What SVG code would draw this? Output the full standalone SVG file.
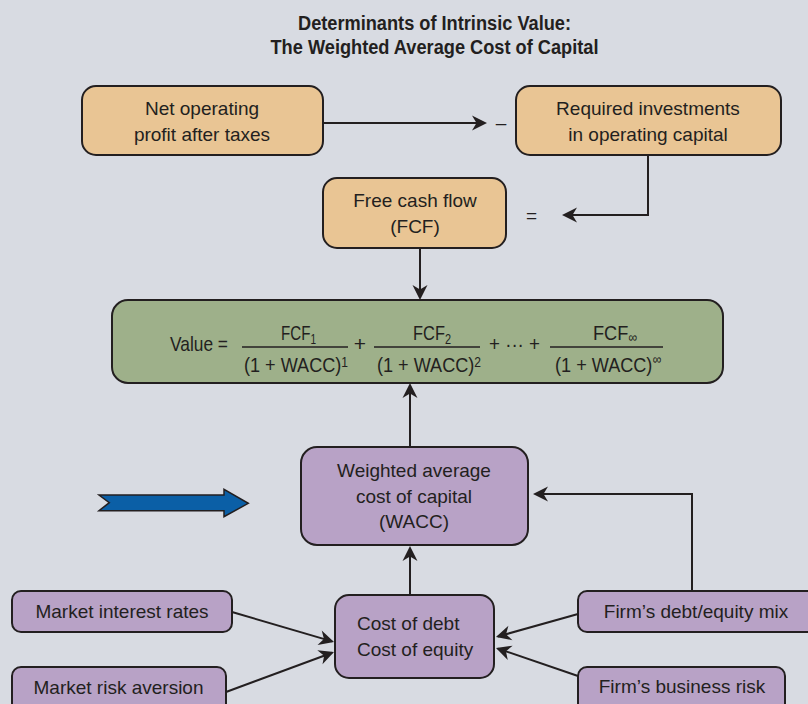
<svg xmlns="http://www.w3.org/2000/svg" width="808" height="704" viewBox="0 0 808 704">
  <defs>
    <marker id="arrowhead" viewBox="-16 -9 18 18" markerWidth="18" markerHeight="18" refX="-2" refY="0" orient="auto" markerUnits="userSpaceOnUse">
      <path d="M0,0 L-15,-7.5 L-10.5,0 L-15,7.5 Z" fill="#231f20"/>
    </marker>
    <style>
      .bg { fill: #d8dbe2; }
      .box { stroke: #231f20; stroke-width: 2; }
      .tan { fill: #e9c594; }
      .sage { fill: #9eb08a; }
      .lilac { fill: #b8a2c6; }
      .t { font-family: "Liberation Sans", Arial, sans-serif; font-size: 19px; fill: #231f20; }
      .c { text-anchor: middle; }
      .title { font-family: "Liberation Sans", Arial, sans-serif; font-size: 20px; font-weight: bold; fill: #231f20; text-anchor: middle; }
      .m { font-family: "Liberation Sans", Arial, sans-serif; font-size: 21px; fill: #231f20; }
      .sm { font-size: 14px; }
      .link { fill: none; stroke: #231f20; stroke-width: 2; marker-end: url(#arrowhead); }
      .bar { stroke: #231f20; stroke-width: 1.5; }
    </style>
  </defs>

  <rect class="bg" x="0" y="0" width="808" height="704"/>

  <!-- heading -->
  <g id="title">
    <text class="title" x="434.5" y="30" textLength="273" lengthAdjust="spacingAndGlyphs">Determinants of Intrinsic Value:</text>
    <text class="title" x="434.5" y="54" textLength="328" lengthAdjust="spacingAndGlyphs">The Weighted Average Cost of Capital</text>
  </g>

  <!-- connectors -->
  <g id="connectors">
    <line class="link" x1="323" y1="123" x2="485" y2="123"/>
    <path class="link" d="M648,155 V215 H564"/>
    <line class="link" x1="420" y1="248" x2="420" y2="298"/>
    <line class="link" x1="410" y1="447" x2="410" y2="385"/>
    <line class="link" x1="410" y1="595" x2="410" y2="548"/>
    <path class="link" d="M692,591 V494 H535"/>
    <line class="link" x1="232" y1="612" x2="332.1" y2="641.4"/>
    <line class="link" x1="226" y1="692" x2="332.1" y2="652.7"/>
    <line class="link" x1="578" y1="614" x2="497.9" y2="636.5"/>
    <line class="link" x1="578" y1="676" x2="497.9" y2="648.6"/>
  </g>

  <!-- operators between the top boxes -->
  <g id="operators">
    <text class="t c" x="501" y="129">–</text>
    <text class="t c" x="531.5" y="221.5">=</text>
  </g>

  <g id="nopat">
    <rect class="box tan" x="82" y="86" width="241" height="69" rx="14"/>
    <text class="t c" x="202" y="115">Net operating</text>
    <text class="t c" x="202" y="141">profit after taxes</text>
  </g>

  <g id="investments">
    <rect class="box tan" x="516" y="86" width="265" height="69" rx="14"/>
    <text class="t c" x="648" y="115">Required investments</text>
    <text class="t c" x="648" y="141">in operating capital</text>
  </g>

  <g id="fcf">
    <rect class="box tan" x="323" y="178" width="183" height="70" rx="14"/>
    <text class="t c" x="415" y="207">Free cash flow</text>
    <text class="t c" x="415" y="233">(FCF)</text>
  </g>

  <!-- valuation formula -->
  <g id="value">
    <rect class="box sage" x="112" y="300" width="611" height="83" rx="16"/>
    <text class="m" x="170" y="351" textLength="58" lengthAdjust="spacingAndGlyphs">Value =</text>

    <text class="m" x="281" y="340" textLength="35" lengthAdjust="spacingAndGlyphs">FCF<tspan class="sm" dy="4">1</tspan></text>
    <line class="bar" x1="242" y1="347" x2="348" y2="347"/>
    <text class="m" x="244" y="372" textLength="104" lengthAdjust="spacingAndGlyphs">(1 + WACC)<tspan class="sm" dy="-5">1</tspan></text>

    <text class="m c" x="360" y="351">+</text>

    <text class="m" x="413" y="340" textLength="38" lengthAdjust="spacingAndGlyphs">FCF<tspan class="sm" dy="4">2</tspan></text>
    <line class="bar" x1="374" y1="347" x2="480" y2="347"/>
    <text class="m" x="377" y="372" textLength="104" lengthAdjust="spacingAndGlyphs">(1 + WACC)<tspan class="sm" dy="-5">2</tspan></text>

    <text class="m" x="489" y="351" textLength="51" lengthAdjust="spacingAndGlyphs">+ ··· +</text>

    <text class="m" x="593" y="340" textLength="44" lengthAdjust="spacingAndGlyphs">FCF<tspan class="sm" dy="2">∞</tspan></text>
    <line class="bar" x1="550" y1="347" x2="663" y2="347"/>
    <text class="m" x="555" y="372" textLength="106" lengthAdjust="spacingAndGlyphs">(1 + WACC)<tspan class="sm" dy="-8">∞</tspan></text>
  </g>

  <g id="wacc">
    <rect class="box lilac" x="301" y="447" width="227" height="98" rx="16"/>
    <text class="t c" x="414" y="477">Weighted average</text>
    <text class="t c" x="414" y="502.5">cost of capital</text>
    <text class="t c" x="414" y="528">(WACC)</text>
  </g>

  <!-- block arrow pointing at the WACC box -->
  <g id="pointer">
    <path d="M99,495 H224 V489.3 L248.3,503.3 L224,516.7 V510.7 H99 L109.3,502.7 Z" fill="#0b5fa6" stroke="#231f20" stroke-width="1.5" stroke-linejoin="miter"/>
  </g>

  <g id="costs">
    <rect class="box lilac" x="335" y="595" width="159" height="83" rx="14"/>
    <text class="t" x="357" y="630">Cost of debt</text>
    <text class="t" x="357" y="656">Cost of equity</text>
  </g>

  <g id="market-rates">
    <rect class="box lilac" x="12" y="591" width="220" height="41" rx="9"/>
    <text class="t c" x="122" y="618">Market interest rates</text>
  </g>

  <g id="risk-aversion">
    <rect class="box lilac" x="12" y="667" width="214" height="50" rx="9"/>
    <text class="t c" x="118.5" y="694">Market risk aversion</text>
  </g>

  <g id="debt-equity">
    <rect class="box lilac" x="578" y="591" width="250" height="41" rx="9"/>
    <text class="t c" x="696" y="618">Firm’s debt/equity mix</text>
  </g>

  <g id="business-risk">
    <rect class="box lilac" x="578" y="667" width="207" height="50" rx="9"/>
    <text class="t c" x="682" y="693">Firm’s business risk</text>
  </g>
</svg>
